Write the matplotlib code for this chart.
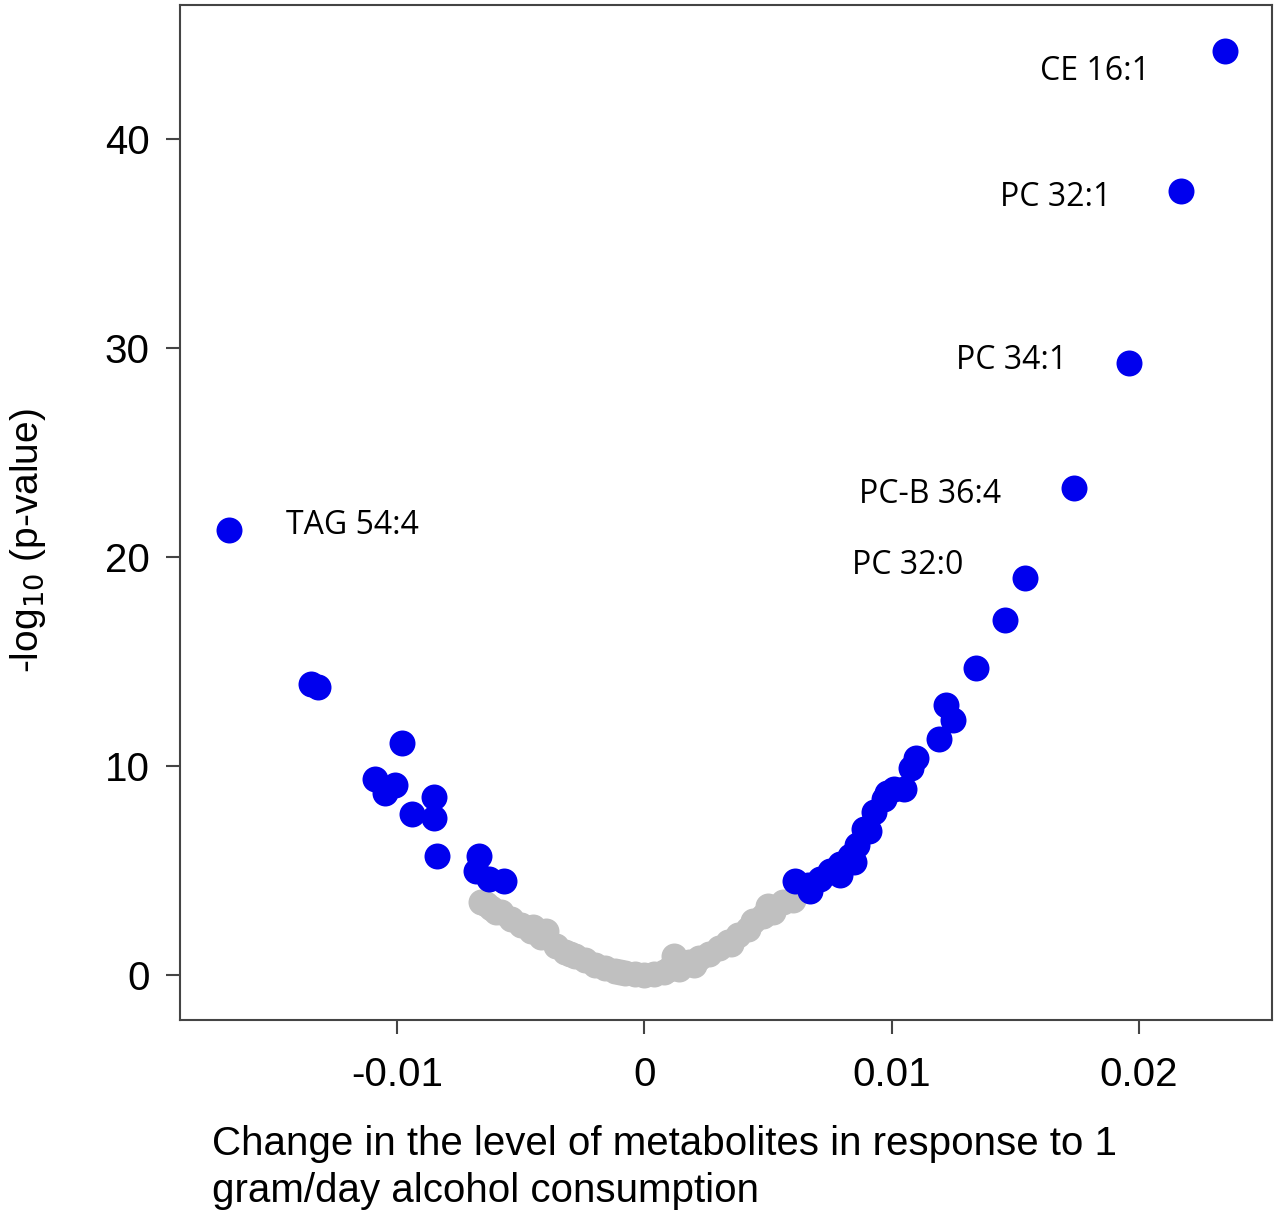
import matplotlib
matplotlib.use("Agg")
import matplotlib.pyplot as plt

blue_x = [0.0235, 0.0217, 0.0196, 0.0174, 0.0154, -0.0168,
          0.0146, 0.0134, 0.0122, 0.0125, 0.0119, 0.0110, 0.0108, 0.0105, 0.0101, 0.0097,
          0.0093, 0.0089, 0.0086, 0.0083, 0.0079, 0.0075, 0.0071, 0.0066, 0.0061, 0.0067,
          0.0079, 0.0085, 0.0091, 0.0098,
          -0.0135, -0.0132, -0.0098, -0.0109, -0.0105, -0.0101, -0.0094, -0.0085, -0.0085,
          -0.0084, -0.0067, -0.0068, -0.0063, -0.0057]
blue_y = [44.2, 37.5, 29.3, 23.3, 19.0, 21.3,
          17.0, 14.7, 12.9, 12.2, 11.3, 10.4, 9.9, 8.9, 8.9, 8.4,
          7.8, 7.0, 6.2, 5.7, 5.3, 5.0, 4.6, 4.3, 4.5, 4.0,
          4.8, 5.4, 6.9, 8.7,
          13.9, 13.8, 11.1, 9.4, 8.7, 9.1, 7.7, 8.5, 7.5,
          5.7, 5.7, 5.0, 4.6, 4.5]

grey_x = [-0.0066, -0.0064, -0.0062, -0.0060, -0.0058, -0.0054, -0.0050, -0.0046, -0.0045,
          -0.0042, -0.0040, -0.0036, -0.0032, -0.0030, -0.0028, -0.0024, -0.0020, -0.0016,
          -0.0012, -0.0010, -0.0008, -0.0004, 0.0, 0.0004, 0.0008, 0.0010, 0.0012, 0.0014,
          0.0018, 0.0020, 0.0022, 0.0026, 0.0030, 0.0034, 0.0035, 0.0038, 0.0042, 0.0044,
          0.0048, 0.0050, 0.0052, 0.0056, 0.0060]
grey_y = [3.5, 3.4, 3.2, 3.0, 3.0, 2.7, 2.4, 2.1, 2.3,
          1.8, 2.1, 1.4, 1.1, 1.0, 0.9, 0.7, 0.5, 0.35,
          0.2, 0.15, 0.1, 0.05, 0.0, 0.05, 0.15, 0.3, 0.9, 0.3,
          0.6, 0.5, 0.8, 1.0, 1.3, 1.6, 1.5, 1.9, 2.2, 2.6,
          2.8, 3.3, 3.0, 3.5, 3.6]

labels = ["CE 16:1", "PC 32:1", "PC 34:1", "PC-B 36:4", "PC 32:0", "TAG 54:4"]
label_x = [0.0160, 0.0144, 0.0126, 0.0087, 0.0084, -0.0145]
label_y = [43.2, 37.2, 29.4, 23.0, 19.6, 21.5]

fig = plt.figure(figsize=(12.8, 12.28), dpi=100)
ax = fig.add_axes([0.1406, 0.1694, 0.8532, 0.8265])
ax.scatter(grey_x, grey_y, s=350, color="#c0c0c0", zorder=2, linewidths=0)
ax.scatter(blue_x, blue_y, s=350, color="#0000ee", zorder=3, linewidths=0)
for t, x, y in zip(labels, label_x, label_y):
    ax.text(x, y, t, fontsize=23, family="Open Sans", ha="left", va="center")

ax.set_xlim(-0.0188, 0.0254)
ax.set_ylim(-2.15, 46.4)
ax.set_xticks([-0.01, 0, 0.01, 0.02])
ax.set_xticklabels(["-0.01", "0", "0.01", "0.02"])
ax.set_yticks([0, 10, 20, 30, 40])
ax.tick_params(labelsize=29, length=10, width=1.5, color="#444444", pad=12)
ax.tick_params(axis="x", pad=16)
for lab in ax.get_xticklabels() + ax.get_yticklabels():
    lab.set_family("Liberation Sans")
for s in ax.spines.values():
    s.set_color("#444444")
    s.set_linewidth(1.5)

fig.text(0.166, 0.015, "Change in the level of metabolites in response to 1\ngram/day alcohol consumption",
         fontsize=29, family="Liberation Sans", ha="left", va="bottom", linespacing=1.3)
fig.text(0.022, 0.56, r"-log$_{10}$ (p-value)", fontsize=28, family="Liberation Sans",
         rotation=90, ha="center", va="center")
fig.savefig("out.png", dpi=100)
